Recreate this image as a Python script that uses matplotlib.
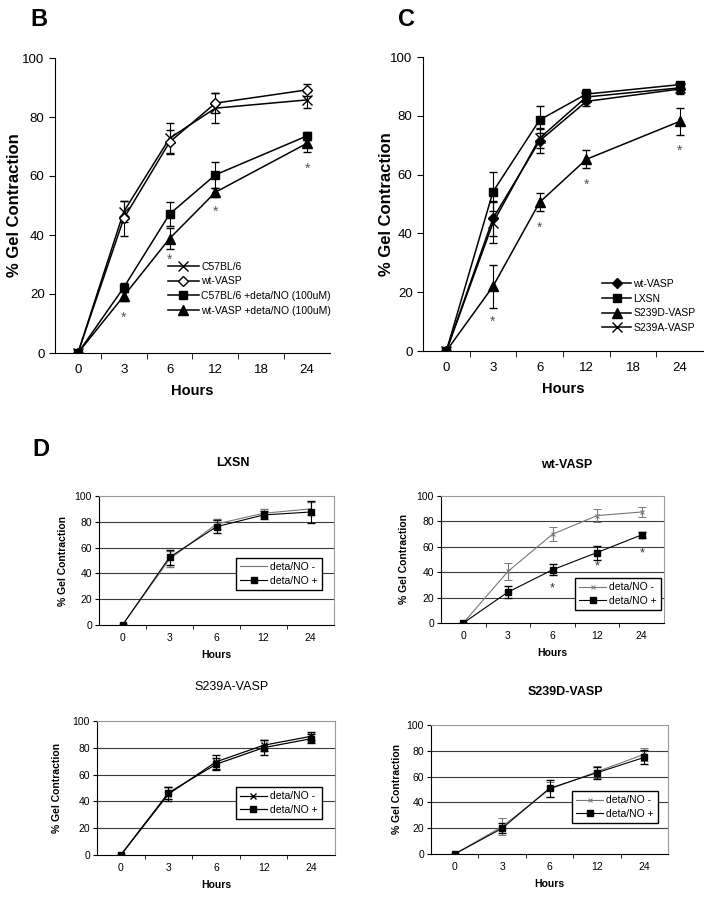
import matplotlib.pyplot as plt
from matplotlib.ticker import FixedLocator

plt.rcParams['font.family'] = ['Liberation Sans', 'DejaVu Sans']

# ---- data ----
top_labels = ['0', '3', '6', '12', '18', '24']
d_labels = ['0', '3', '6', '12', '24']
hours = [0, 3, 6, 12, 24]

# panel B
b_c57 = [0, 47.9, 72.8, 83.0, 85.8]
b_c57_err = [0, 3.5, 5.0, 5.0, 2.8]
b_wt = [0, 45.6, 71.5, 84.7, 89.2]
b_wt_err = [0, 6.0, 4.0, 3.5, 2.0]
b_c57_no = [0, 22.2, 47.1, 60.4, 73.6]
b_c57_no_err = [0, 1.5, 4.0, 4.5, 1.3]
b_wt_no = [0, 19.3, 38.8, 54.5, 71.1]
b_wt_no_err = [0, 1.7, 3.7, 1.5, 3.0]
b_star_hours = [3, 6, 12, 24]
b_star_y = [12, 31.7, 47.9, 62.3]

# panel C
c_wt = [0, 45.1, 71.5, 84.9, 89.1]
c_wt_err = [0, 6.0, 4.0, 1.5, 1.5]
c_lxsn = [0, 54.2, 78.6, 87.4, 90.6]
c_lxsn_err = [0, 6.6, 4.6, 1.7, 1.0]
c_s239d = [0, 22.0, 50.6, 65.2, 78.1]
c_s239d_err = [0, 7.3, 3.0, 3.0, 4.5]
c_s239a = [0, 43.6, 72.4, 86.4, 89.5]
c_s239a_err = [0, 7.0, 3.5, 1.5, 2.0]
c_star_hours = [3, 6, 12, 24]
c_star_y = [9.9, 42, 56.5, 68]

# panel D
lxsn_minus = [0, 51.0, 78.3, 86.6, 90.0]
lxsn_minus_err = [0, 6.0, 4.0, 3.0, 5.0]
lxsn_plus = [0, 52.5, 76.2, 85.3, 87.6]
lxsn_plus_err = [0, 6.0, 5.0, 3.0, 8.5]

wt_minus = [0, 40.6, 69.9, 84.6, 87.4]
wt_minus_err = [0, 7.0, 5.5, 5.0, 3.7]
wt_plus = [0, 24.3, 41.9, 55.5, 69.4]
wt_plus_err = [0, 4.5, 4.4, 5.5, 2.6]
wt_star_hours = [6, 12, 24]
wt_star_y = [27.5, 44.5, 54.5]

s239a_minus = [0, 45.4, 69.5, 81.9, 88.6]
s239a_minus_err = [0, 5.0, 5.0, 4.0, 3.0]
s239a_plus = [0, 46.4, 67.7, 80.1, 86.8]
s239a_plus_err = [0, 4.5, 4.5, 5.5, 3.5]

s239d_minus = [0, 21.2, 50.1, 63.8, 77.3]
s239d_minus_err = [0, 6.5, 6.0, 4.5, 5.0]
s239d_plus = [0, 19.9, 50.9, 63.0, 74.9]
s239d_plus_err = [0, 4.0, 6.5, 4.5, 5.5]

W, H = 714, 900
fig = plt.figure(figsize=(W / 100, H / 100), dpi=100)


def box(l, t, r, b):
    return [l / W, 1 - b / H, (r - l) / W, (b - t) / H]


def pos(labels, hrs):
    return [labels.index(str(h)) for h in hrs]


def top_axes(rect, ylab_x):
    ax = fig.add_axes(rect)
    ax.set_xlim(-0.5, 5.5)
    ax.set_ylim(0, 100)
    ax.spines['top'].set_visible(False)
    ax.spines['right'].set_visible(False)
    ax.set_xticks(range(6))
    ax.set_xticklabels(top_labels, fontsize=9.5)
    ax.xaxis.set_minor_locator(FixedLocator([0.5, 1.5, 2.5, 3.5, 4.5]))
    ax.tick_params(axis='x', which='major', length=0, pad=8)
    ax.tick_params(axis='x', which='minor', length=4, direction='out')
    ax.set_yticks(range(0, 101, 20))
    ax.tick_params(axis='y', labelsize=9.5, length=4)
    ax.set_ylabel('% Gel Contraction', fontsize=12, fontweight='bold')
    ax.yaxis.set_label_coords(ylab_x, 0.5)
    ax.set_xlabel('Hours', fontsize=10.5, fontweight='bold', labelpad=6)
    return ax


def eb(ax, x, y, e, fmt, ms, mfc='black', color='black', lw=1.1, mew=1.0):
    c = ax.errorbar(x, y, yerr=e, fmt=fmt, color=color, ms=ms, mfc=mfc, mec=color,
                    mew=mew, lw=lw, elinewidth=0.8, capsize=3, capthick=0.8)
    return c[0]


# ---- panel B ----
axb = top_axes(box(55, 58, 330, 353), -0.12)
xb = pos(top_labels, hours)
hb = [eb(axb, xb, b_c57, b_c57_err, '-x', 7),
      eb(axb, xb, b_wt, b_wt_err, '-D', 5.5, mfc='white'),
      eb(axb, xb, b_c57_no, b_c57_no_err, '-s', 6),
      eb(axb, xb, b_wt_no, b_wt_no_err, '-^', 6.5)]
for xx, yy in zip(pos(top_labels, b_star_hours), b_star_y):
    axb.text(xx, yy, '*', ha='center', va='center', fontsize=10, color='#555555')
axb.legend(hb, ['C57BL/6', 'wt-VASP', 'C57BL/6 +deta/NO (100uM)', 'wt-VASP +deta/NO (100uM)'],
           loc='upper left', bbox_to_anchor=(0.41, 0.31), frameon=False, fontsize=7.5,
           handlelength=3.0, handletextpad=0.2, labelspacing=0.45, borderpad=0, borderaxespad=0)
fig.text(30 / W, 1 - 19 / H, 'B', fontsize=17, fontweight='bold', va='center')

# ---- panel C ----
axc = top_axes(box(423, 57, 703, 351), -0.104)
hc = [eb(axc, xb, c_wt, c_wt_err, '-D', 5),
      eb(axc, xb, c_lxsn, c_lxsn_err, '-s', 6),
      eb(axc, xb, c_s239d, c_s239d_err, '-^', 6.5),
      eb(axc, xb, c_s239a, c_s239a_err, '-x', 7)]
for xx, yy in zip(pos(top_labels, c_star_hours), c_star_y):
    axc.text(xx, yy, '*', ha='center', va='center', fontsize=10, color='#555555')
axc.legend(hc, ['wt-VASP', 'LXSN', 'S239D-VASP', 'S239A-VASP'],
           loc='upper left', bbox_to_anchor=(0.64, 0.245), frameon=False, fontsize=7.5,
           handlelength=2.8, handletextpad=0.2, labelspacing=0.45, borderpad=0, borderaxespad=0)
fig.text(398 / W, 1 - 19 / H, 'C', fontsize=17, fontweight='bold', va='center')


# ---- panel D ----
def d_axes(rect, title, tx, ty, ylab_x, title_bold=True):
    ax = fig.add_axes(rect)
    ax.set_xlim(-0.5, 4.5)
    ax.set_ylim(0, 100)
    for s in ['top', 'right']:
        ax.spines[s].set_color('#9a9a9a')
    for s in ax.spines.values():
        s.set_linewidth(0.8)
    ax.set_xticks(range(5))
    ax.set_xticklabels(d_labels, fontsize=7.5)
    ax.xaxis.set_minor_locator(FixedLocator([0.5, 1.5, 2.5, 3.5]))
    ax.tick_params(axis='x', which='major', length=0, pad=6)
    ax.tick_params(axis='x', which='minor', length=3, direction='out')
    ax.set_yticks(range(0, 101, 20))
    ax.tick_params(axis='y', labelsize=7.5, length=3, pad=2)
    for g in range(20, 100, 20):
        ax.axhline(g, color='#3a3a3a', lw=0.8, zorder=0)
    ax.set_ylabel('% Gel Contraction', fontsize=7.5, fontweight='bold')
    ax.yaxis.set_label_coords(ylab_x, 0.5)
    ax.set_xlabel('Hours', fontsize=7.5, fontweight='bold', labelpad=5)
    fig.text(tx / W, 1 - ty / H, title, fontsize=9, ha='center', va='center',
             fontweight='bold' if title_bold else 'normal')
    return ax


def d_legend(ax, handles, anchor):
    ax.legend(handles, ['deta/NO -', 'deta/NO +'], loc='upper right', bbox_to_anchor=anchor,
              fontsize=7.5, fancybox=False, edgecolor='black', framealpha=1,
              handlelength=2.6, handletextpad=0.3, labelspacing=0.35, borderpad=0.4,
              borderaxespad=0)


xd = list(range(5))

ax1 = d_axes(box(99, 496, 334, 625), 'LXSN', 233, 463, -0.132)
h1 = [eb(ax1, xd, lxsn_minus, lxsn_minus_err, '-', 0, color='#777777', lw=0.8),
      eb(ax1, xd, lxsn_plus, lxsn_plus_err, '-s', 4.5, lw=0.8)]
d_legend(ax1, h1, (0.949, 0.52))
fig.text(32 / W, 1 - 449 / H, 'D', fontsize=17, fontweight='bold', va='center')

ax2 = d_axes(box(441, 496, 664, 623), 'wt-VASP', 567, 465, -0.143)
h2 = [eb(ax2, xd, wt_minus, wt_minus_err, '-x', 3, color='#777777', lw=0.8, mew=0.7),
      eb(ax2, xd, wt_plus, wt_plus_err, '-s', 4.5, lw=0.8)]
for xx, yy in zip(pos(d_labels, wt_star_hours), wt_star_y):
    ax2.text(xx, yy, '*', ha='center', va='center', fontsize=9, color='#333333')
d_legend(ax2, h2, (0.987, 0.354))

ax3 = d_axes(box(97, 721, 335, 855), 'S239A-VASP', 232, 687, -0.147, title_bold=False)
h3 = [eb(ax3, xd, s239a_minus, s239a_minus_err, '-x', 4.5, lw=0.9),
      eb(ax3, xd, s239a_plus, s239a_plus_err, '-s', 4.5, lw=0.9)]
d_legend(ax3, h3, (0.945, 0.507))

ax4 = d_axes(box(431, 725, 668, 854), 'S239D-VASP', 565, 692, -0.122)
h4 = [eb(ax4, xd, s239d_minus, s239d_minus_err, '-x', 3, color='#777777', lw=0.8, mew=0.7),
      eb(ax4, xd, s239d_plus, s239d_plus_err, '-s', 4.5, lw=0.8)]
d_legend(ax4, h4, (0.958, 0.488))

fig.savefig('out.png', dpi=100)
